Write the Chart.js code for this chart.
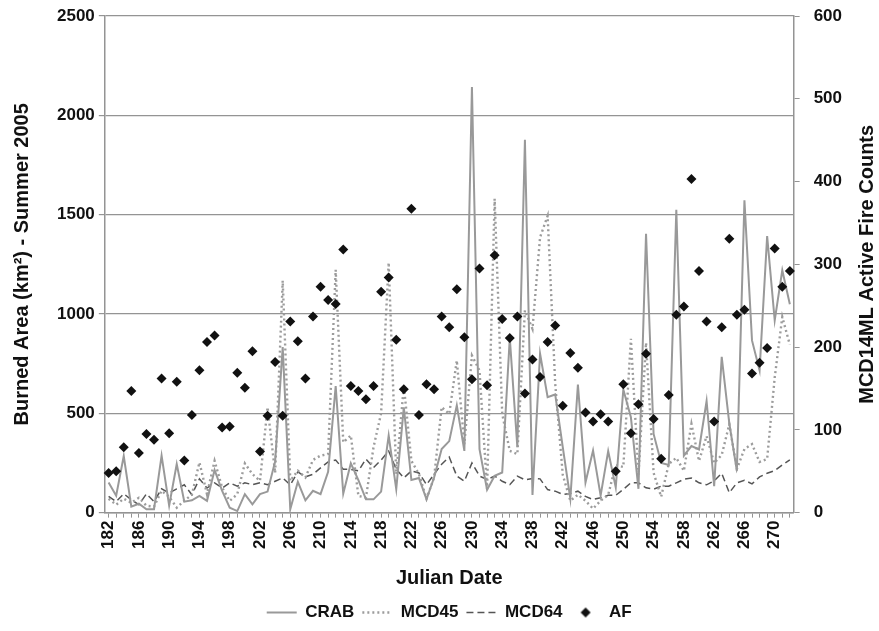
<!DOCTYPE html>
<html>
<head>
<meta charset="utf-8">
<script src="https://cdn.jsdelivr.net/npm/chart.js@4.4.1/dist/chart.umd.min.js"></script>
<style>
  html, body { margin: 0; padding: 0; background: #fff; }
  #wrap { width: 879px; height: 631px; }
</style>
</head>
<body>
<div id="wrap"><canvas id="fireChart" width="879" height="631"></canvas></div>
<script>
// Julian days, summer 2005
const days = [182, 183, 184, 185, 186, 187, 188, 189, 190, 191, 192, 193, 194, 195, 196, 197, 198, 199, 200, 201,
  202, 203, 204, 205, 206, 207, 208, 209, 210, 211, 212, 213, 214, 215, 216, 217, 218, 219, 220, 221,
  222, 223, 224, 225, 226, 227, 228, 229, 230, 231, 232, 233, 234, 235, 236, 237, 238, 239, 240, 241,
  242, 243, 244, 245, 246, 247, 248, 249, 250, 251, 252, 253, 254, 255, 256, 257, 258, 259, 260, 261,
  262, 263, 264, 265, 266, 267, 268, 269, 270, 271, 272];
const shownDays = [182, 186, 190, 194, 198, 202, 206, 210, 214, 218, 222, 226, 230, 234, 238, 242, 246, 250, 254, 258, 262, 266, 270];

// burned area, km2 (left axis)
const crab = [152, 85, 285, 30, 45, 17, 17, 287, 35, 245, 55, 62, 84, 59, 215, 110, 25, 8, 93, 42,
  93, 106, 258, 833, 17, 155, 62, 110, 93, 205, 637, 96, 248, 164, 67, 67, 106, 388, 118, 530,
  164, 174, 67, 177, 320, 360, 540, 311, 2143, 320, 115, 185, 202, 880, 330, 1877, 89, 800, 581, 595,
  330, 70, 645, 152, 313, 86, 310, 127, 620, 480, 120, 1404, 396, 250, 240, 1525, 287, 335, 318, 562,
  133, 784, 450, 211, 1572, 867, 716, 1392, 968, 1220, 1049];
const mcd45 = [70, 40, 70, 50, 75, 35, 30, 110, 80, 25, 60, 90, 253, 93, 261, 126, 59, 93, 248, 194,
  160, 531, 200, 1168, 160, 211, 177, 265, 287, 295, 1222, 354, 388, 84, 76, 330, 500, 1259, 194, 640,
  261, 194, 70, 177, 531, 497, 766, 345, 791, 715, 118, 1580, 497, 311, 295, 1018, 925, 1386, 1494, 650,
  190, 60, 90, 60, 20, 60, 90, 240, 230, 875, 190, 855, 200, 80, 245, 276, 210, 447, 260, 385,
  250, 290, 445, 220, 320, 345, 255, 270, 680, 985, 845];
const mcd64 = [82, 56, 95, 65, 40, 95, 56, 120, 99, 120, 140, 90, 170, 124, 150, 124, 150, 133, 150, 141,
  150, 141, 158, 175, 140, 205, 180, 193, 225, 255, 265, 218, 218, 210, 270, 227, 265, 310, 218, 175,
  210, 200, 141, 193, 244, 280, 184, 158, 250, 184, 167, 184, 158, 141, 184, 165, 172, 170, 116, 108,
  92, 96, 108, 82, 66, 75, 87, 87, 117, 150, 150, 125, 118, 133, 133, 150, 168, 174, 150, 140,
  160, 198, 100, 150, 163, 145, 180, 198, 212, 240, 265];
// MCD14ML active fire counts (right axis)
const af = [48, 50, 79, 147, 72, 95, 88, 162, 96, 158, 63, 118, 172, 206, 214, 103, 104, 169, 151, 195,
  74, 117, 182, 117, 231, 207, 162, 237, 273, 257, 252, 318, 153, 147, 137, 153, 267, 284, 209, 149,
  367, 118, 155, 149, 237, 224, 270, 212, 161, 295, 154, 311, 234, 211, 237, 144, 185, 164, 206, 226,
  129, 193, 175, 121, 110, 119, 110, 50, 155, 96, 131, 192, 113, 65, 142, 239, 249, 403, 292, 231,
  110, 224, 331, 239, 245, 168, 181, 199, 319, 273, 292];

Chart.defaults.font.family = "'Liberation Sans', Arial, sans-serif";
Chart.defaults.font.weight = 'bold';
Chart.defaults.color = '#111';

const axisGray = '#949494';

// small diamond used as the AF legend marker
const diamond = document.createElement('canvas');
diamond.width = 12;
diamond.height = 12;
const dctx = diamond.getContext('2d');
dctx.fillStyle = '#111';
dctx.beginPath();
dctx.moveTo(6, 1); dctx.lineTo(11, 6); dctx.lineTo(6, 11); dctx.lineTo(1, 6);
dctx.closePath();
dctx.fill();

// right axis title reads bottom-to-top like the left one
const rightTitle = {
  id: 'rightTitle',
  afterDraw(chart) {
    const ctx = chart.ctx;
    const area = chart.chartArea;
    ctx.save();
    ctx.font = "bold 20px 'Liberation Sans', Arial, sans-serif";
    ctx.fillStyle = '#111';
    ctx.textAlign = 'center';
    ctx.textBaseline = 'middle';
    ctx.translate(867, (area.top + area.bottom) / 2);
    ctx.rotate(-Math.PI / 2);
    ctx.fillText('MCD14ML Active Fire Counts', 0, 0);
    ctx.restore();
  }
};

// keep the label overhang from pushing the plot down
function trimPadding(scale) {
  scale.paddingTop = 10;
  scale.paddingBottom = 10;
}

new Chart(document.getElementById('fireChart'), {
  type: 'line',
  data: {
    labels: days,
    datasets: [
      { label: 'CRAB', data: crab, yAxisID: 'y', borderColor: '#999999', borderWidth: 2,
        pointRadius: 0, pointStyle: 'line', tension: 0, order: 1 },
      { label: 'MCD45', data: mcd45, yAxisID: 'y', borderColor: '#9c9c9c', borderWidth: 2.4,
        borderDash: [2, 3], pointRadius: 0, pointStyle: 'line', tension: 0, order: 2 },
      { label: 'MCD64', data: mcd64, yAxisID: 'y', borderColor: '#555555', borderWidth: 1.5,
        borderDash: [7, 4], pointRadius: 0, pointStyle: 'line', tension: 0, order: 3 },
      { label: 'AF', data: af, yAxisID: 'y1', showLine: false, pointStyle: 'rectRot',
        pointRadius: 5, backgroundColor: '#111', borderColor: '#111', borderWidth: 0, order: 0 }
    ]
  },
  options: {
    responsive: false,
    animation: false,
    layout: { padding: { left: 4, right: 23, top: 16, bottom: 0 } },
    plugins: {
      tooltip: { enabled: false },
      legend: {
        position: 'bottom',
        fullSize: false,
        labels: {
          usePointStyle: true,
          pointStyleWidth: 30,
          boxHeight: 16,
          padding: 8,
          font: { size: 17, weight: 'bold', lineHeight: 1 },
          color: '#111',
          generateLabels(chart) {
            const items = Chart.defaults.plugins.legend.labels.generateLabels(chart);
            items.forEach(it => {
              const ds = chart.data.datasets[it.datasetIndex];
              if (it.text === 'AF') {
                it.pointStyle = diamond;
              } else {
                it.lineDash = ds.borderDash || [];
                it.lineWidth = ds.borderWidth;
                it.strokeStyle = ds.borderColor;
              }
            });
            return items.sort((a, b) => a.datasetIndex - b.datasetIndex);
          }
        }
      }
    },
    scales: {
      x: {
        type: 'category',
        offset: true,
        grid: { drawOnChartArea: false, drawTicks: true, tickLength: 5, color: axisGray, offset: false },
        border: { color: axisGray, width: 1.5 },
        ticks: {
          autoSkip: false, minRotation: 90, maxRotation: 90, padding: 3,
          font: { size: 17, weight: 'bold' },
          callback(value, index) {
            const d = days[index];
            return shownDays.includes(d) ? String(d) : '';
          }
        },
        title: { display: true, text: 'Julian Date', font: { size: 20, weight: 'bold' }, padding: { top: 14, bottom: 6 } }
      },
      y: {
        position: 'left',
        min: 0, max: 2500,
        afterFit: trimPadding,
        grid: { color: axisGray, lineWidth: 1.2, tickLength: 6 },
        border: { color: axisGray, width: 1.5 },
        ticks: { stepSize: 500, padding: 4, font: { size: 17, weight: 'bold' }, callback: v => String(v) },
        title: { display: true, text: 'Burned Area (km\u00b2) - Summer 2005', font: { size: 20, weight: 'bold' }, padding: { top: 6, bottom: 19 } }
      },
      y1: {
        position: 'right',
        min: 0, max: 600,
        afterFit: trimPadding,
        grid: { drawOnChartArea: false, color: axisGray, tickLength: 6 },
        border: { color: axisGray, width: 1.5 },
        ticks: { stepSize: 100, padding: 14, font: { size: 17, weight: 'bold' }, callback: v => String(v) }
      }
    }
  },
  plugins: [rightTitle]
});
</script>
</body>
</html>
